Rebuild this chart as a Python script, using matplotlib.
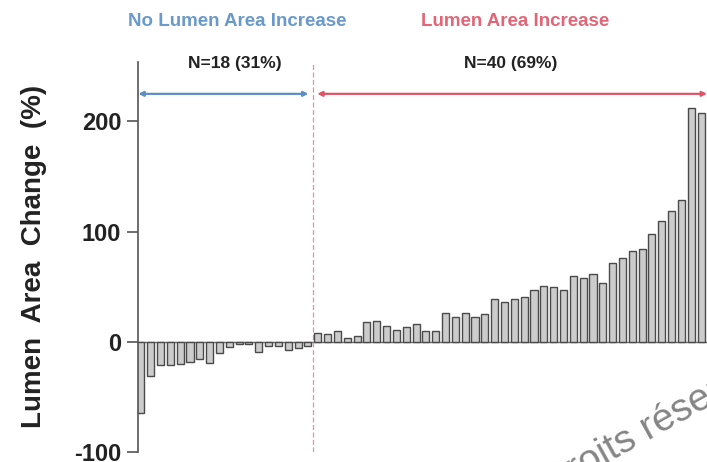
#!/usr/bin/env python3

import matplotlib
matplotlib.use("Agg")
import matplotlib.pyplot as plt
import numpy as np

# Data (%, sorted per group)
no_increase = [-65, -31, -21, -21, -20, -18, -16, -19, -10, -5,
               -2, -2, -9, -4, -4, -8, -6, -4]
increase = [8, 7, 10, 3, 5, 18, 19, 14, 11, 13,
            16, 10, 10, 26, 22, 26, 22, 25, 39, 36,
            39, 41, 47, 51, 50, 47, 60, 58, 61, 53,
            71, 76, 82, 84, 98, 110, 119, 129, 212, 208]
group_titles = ["No Lumen Area Increase", "Lumen Area Increase"]
group_counts = ["N=18 (31%)", "N=40 (69%)"]
y_ticks = [-100, 0, 100, 200]

blue = "#5a8fc6"
red = "#df5568"

plt.rcParams["font.family"] = ["Liberation Sans", "DejaVu Sans"]
plt.rcParams["axes.unicode_minus"] = False

values = no_increase + increase
x = np.arange(len(values))
split = len(no_increase) - 0.5

fig = plt.figure(figsize=(7.07, 4.62), dpi=100)
ax = fig.add_axes([0.195, 0.022, 0.805, 0.844])

ax.bar(x, values, width=0.72, color="#cccccc", edgecolor="#4a4a4a", linewidth=1.0, zorder=2)
ax.axhline(0, color="#6a6a6a", linewidth=1.0, zorder=1)
ax.axvline(split, color="#e8909c", linewidth=0.9, linestyle=(0, (4, 2)), zorder=1)

ax.set_xlim(-0.3, 57.6)
ax.set_ylim(-100, 254)
ax.set_yticks(y_ticks)
ax.set_xticks([])
for side in ["top", "right", "bottom"]:
    ax.spines[side].set_visible(False)
ax.spines["left"].set_color("#555555")
ax.spines["left"].set_linewidth(1.2)
ax.tick_params(axis="y", length=8, width=1.2, color="#555555", labelsize=17, pad=4)
for lab in ax.get_yticklabels():
    lab.set_fontweight("bold")
    lab.set_color("#222222")
ax.set_ylabel("Lumen  Area  Change  (%)", fontsize=20, fontweight="bold", color="#222222")
ax.yaxis.set_label_coords(-0.16, 0.50)

# group arrows
arrow_y = 225
ax.annotate("", xy=(-0.25, arrow_y), xytext=(split - 0.45, arrow_y),
            arrowprops=dict(arrowstyle="<|-|>", color=blue, lw=1.6, mutation_scale=7,
                            shrinkA=0, shrinkB=0), annotation_clip=False)
ax.annotate("", xy=(split + 0.45, arrow_y), xytext=(57.6, arrow_y),
            arrowprops=dict(arrowstyle="<|-|>", color=red, lw=1.6, mutation_scale=7,
                            shrinkA=0, shrinkB=0), annotation_clip=False)

# group titles
title_x = [9.8, 38.1]
count_x = [9.6, 37.6]
colors = [blue, red]
for tx, cx, title, count, col in zip(title_x, count_x, group_titles, group_counts, colors):
    ax.text(tx, 291, title, ha="center", va="center", fontsize=13.5, fontweight="bold",
            color=col, alpha=0.9, clip_on=False)
    ax.text(cx, 253, count, ha="center", va="center", fontsize=12.5, fontweight="bold",
            color="#222222", clip_on=False)

# watermark, cut by the lower right corner as in the picture
fig.text(0.778, -0.072, "Droits réservés", rotation=29, rotation_mode="anchor",
         fontsize=28, color="#666666", ha="left", va="baseline", alpha=0.8)

fig.savefig("out.png", dpi=100)
